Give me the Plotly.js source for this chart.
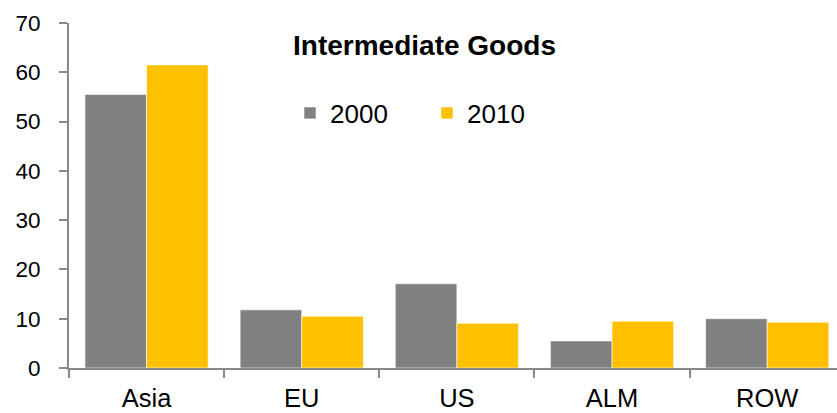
<!DOCTYPE html>
<html>
<head>
<meta charset="utf-8">
<script src="https://cdn.plot.ly/plotly-3.0.1.min.js"></script>
<style>
html,body{margin:0;padding:0;background:#fff;}
#chart{width:837px;height:413px;}
</style>
</head>
<body>
<div id="chart"></div>
<script>
var categories = ["Asia", "EU", "US", "ALM", "ROW"];
var values2000 = [55.5, 11.8, 17.1, 5.5, 10.0];
var values2010 = [61.5, 10.5, 9.1, 9.5, 9.3];
var seriesNames = ["2000", "2010"];
var yTicks = [0, 10, 20, 30, 40, 50, 60, 70];

var axisColor = "#898989";
var traces = [
  {
    type: "bar", name: seriesNames[0], x: categories, y: values2000,
    marker: {color: "#808080", line: {color: "rgba(255,255,255,0.6)", width: 1}}
  },
  {
    type: "bar", name: seriesNames[1], x: categories, y: values2010,
    marker: {color: "#FFC000", line: {color: "rgba(255,255,255,0.6)", width: 1}}
  }
];

var layout = {
  width: 837, height: 413,
  margin: {l: 69, r: 0, t: 23, b: 45, pad: 0},
  paper_bgcolor: "#fff", plot_bgcolor: "#fff",
  barmode: "group",
  bargap: 0.206, bargroupgap: 0,
  font: {family: "Liberation Sans, Arial, sans-serif", color: "#000"},
  title: {
    text: "<b>Intermediate Goods</b>",
    font: {family: "Liberation Sans, Arial, sans-serif", size: 28, color: "#000"},
    x: 424.5 / 837, xanchor: "center", xref: "container",
    y: 1 - 45 / 413, yanchor: "middle", yref: "container"
  },
  showlegend: true,
  legend: {
    orientation: "h",
    x: (290 - 69) / 768, xanchor: "left",
    y: (368 - 113) / 345, yanchor: "middle",
    font: {size: 26, color: "#000"},
    bgcolor: "rgba(0,0,0,0)",
    entrywidth: 92, entrywidthmode: "pixels",
    traceorder: "normal"
  },
  xaxis: {
    type: "category",
    range: [-0.5, 4.45],
    showline: true, linecolor: axisColor, linewidth: 2,
    ticks: "outside", tickson: "boundaries", ticklen: 8, tickwidth: 2, tickcolor: axisColor,
    ticklabelstandoff: 6,
    showgrid: false, zeroline: false,
    tickfont: {size: 25.5, color: "#000"},
    fixedrange: true
  },
  yaxis: {
    range: [0, 70],
    tickvals: yTicks, ticktext: yTicks.map(String),
    showline: true, linecolor: axisColor, linewidth: 2,
    ticks: "outside", ticklen: 8, tickwidth: 2, tickcolor: axisColor,
    ticklabelstandoff: 14,
    showgrid: false, zeroline: false,
    tickfont: {size: 22.5, color: "#000"},
    fixedrange: true
  }
};

Plotly.newPlot("chart", traces, layout, {displayModeBar: false, staticPlot: true});
</script>
</body>
</html>
